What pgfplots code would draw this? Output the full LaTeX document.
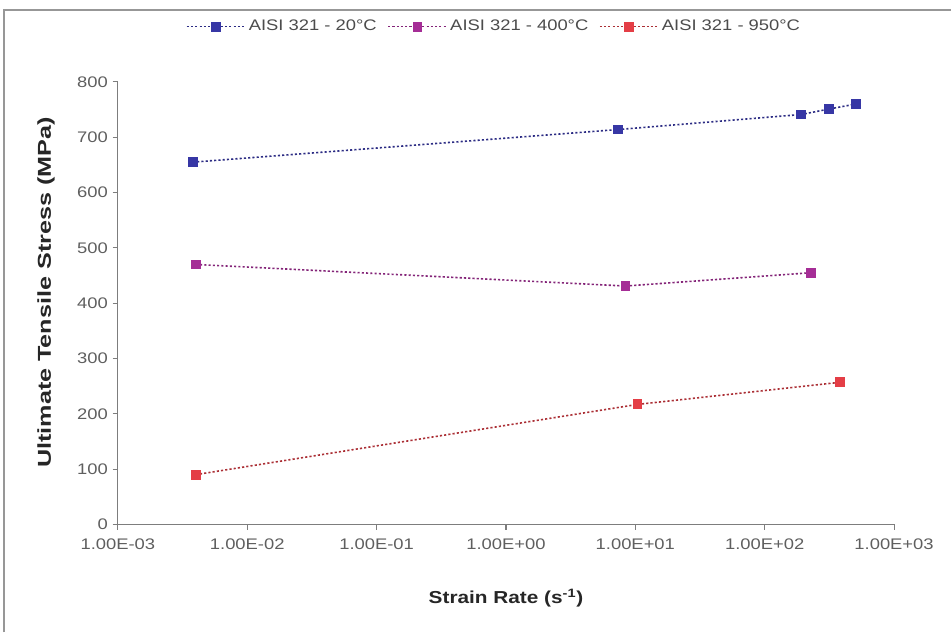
\documentclass[border=0pt]{standalone}
\usepackage{fontspec}
\setmainfont{Liberation Sans}[FakeStretch=1.2]
\newfontfamily\ylabfont{Liberation Sans}[FakeStretch=1.35]
\usepackage{pgfplots}
\pgfplotsset{compat=1.18}
\definecolor{sblue}{RGB}{55,55,165}
\definecolor{smag}{RGB}{165,45,150}
\definecolor{sred}{RGB}{228,62,70}
\definecolor{tickgray}{RGB}{95,95,95}
\definecolor{axgray}{RGB}{125,125,125}
\begin{document}
\begin{tikzpicture}[x=0.75pt,y=0.75pt]
\path[fill=white] (0,0) rectangle (952,633);
\draw[axgray!80, line width=1.5pt] (4,0) -- (4,623) -- (952,623);
\begin{axis}[
  at={(88.5pt,81pt)}, anchor=south west,
  scale only axis, width=582.75pt, height=332.25pt,
  xmode=log, xmin=1e-3, xmax=1e3, ymin=0, ymax=800,
  axis x line=bottom, axis y line=left,
  axis line style={-, axgray, line width=0.8pt},
  tick style={axgray, line width=0.8pt},
  tick align=outside, major tick length=4pt,
  minor tick num=0, xminorticks=false,
  xtick={1e-3,1e-2,1e-1,1e0,1e1,1e2,1e3},
  xticklabels={1.00E-03,1.00E-02,1.00E-01,1.00E+00,1.00E+01,1.00E+02,1.00E+03},
  ytick={0,100,...,800},
  /pgf/number format/assume math mode=true,
  ticklabel style={font=\fontsize{11.5}{13}\selectfont, text=tickgray},
  xticklabel style={yshift=-3pt},
  xlabel={\textbf{Strain Rate (s\textsuperscript{-1})}},
  ylabel={\ylabfont\bfseries Ultimate Tensile Stress (MPa)},
  label style={font=\fontsize{13}{15}\selectfont, text=black!85},
  xlabel style={yshift=-23pt},
  ylabel style={font=\fontsize{14}{16}\selectfont, yshift=10pt, xshift=8pt},
  legend columns=3,
  legend style={at={(0.485,1.125)}, anchor=center, draw=none, fill=none,
    font=\fontsize{11.5}{13}\selectfont, text=tickgray!80!black,
    /tikz/every even column/.append style={column sep=6pt}},
  legend image code/.code={\draw[mark repeat=2,mark phase=2] plot coordinates {(0pt,0pt) (22pt,0pt) (44pt,0pt)};},
  every axis plot/.append style={line width=1.2pt, dash pattern=on 1.6pt off 1.6pt, mark=square*, mark size=3.1pt},
  clip=false,
]
\addplot[color=sblue!80!black, mark options={solid, fill=sblue, draw=sblue}] coordinates {
  (3.8e-3,655) (7.4,714) (190,741) (315,751) (506,760)
};
\addlegendentry{AISI 321 - 20°C}
\addplot[color=smag!80!black, mark options={solid, fill=smag, draw=smag}] coordinates {
  (4.0e-3,470) (8.4,431) (227,455)
};
\addlegendentry{AISI 321 - 400°C}
\addplot[color=sred!75!black, mark options={solid, fill=sred, draw=sred}] coordinates {
  (4.0e-3,90) (10.4,217) (383,257)
};
\addlegendentry{AISI 321 - 950°C}
\end{axis}
\end{tikzpicture}
\end{document}
